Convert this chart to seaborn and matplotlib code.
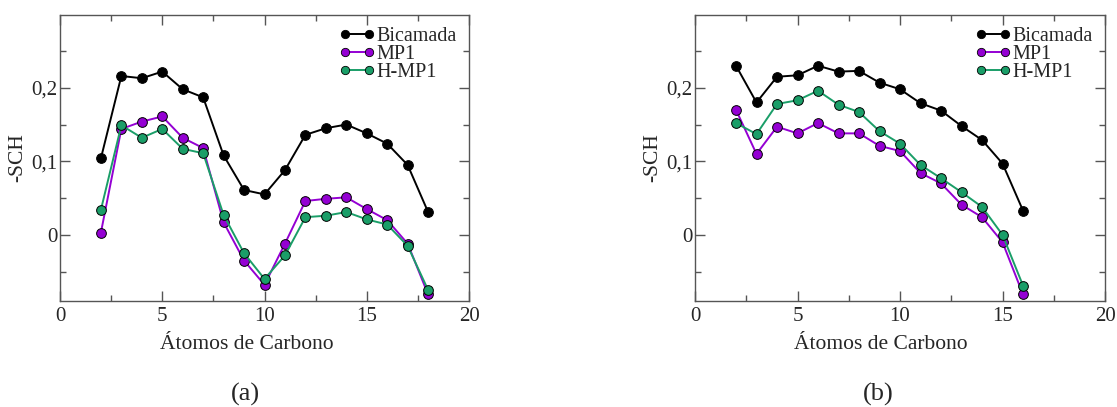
import matplotlib
matplotlib.use("Agg")
import matplotlib.pyplot as plt
import seaborn as sns
import pandas as pd
from matplotlib.ticker import MultipleLocator, FuncFormatter

# ---- data ----
carbons_a = list(range(2, 19))
bicamada_a = [0.104, 0.216, 0.213, 0.222, 0.198, 0.187, 0.108, 0.061, 0.055,
              0.088, 0.136, 0.145, 0.150, 0.138, 0.124, 0.095, 0.031]
mp1_a = [0.003, 0.144, 0.154, 0.161, 0.132, 0.118, 0.017, -0.035, -0.068,
         -0.012, 0.046, 0.049, 0.051, 0.035, 0.020, -0.012, -0.081]
hmp1_a = [0.034, 0.149, 0.132, 0.144, 0.117, 0.111, 0.027, -0.025, -0.060,
          -0.028, 0.024, 0.026, 0.031, 0.021, 0.014, -0.015, -0.075]

carbons_b = list(range(2, 17))
bicamada_b = [0.230, 0.180, 0.215, 0.217, 0.230, 0.222, 0.223, 0.207, 0.198,
              0.179, 0.169, 0.148, 0.129, 0.097, 0.033]
mp1_b = [0.170, 0.110, 0.147, 0.138, 0.152, 0.138, 0.138, 0.121, 0.114,
         0.084, 0.070, 0.041, 0.024, -0.010, -0.081]
hmp1_b = [0.152, 0.137, 0.178, 0.183, 0.196, 0.177, 0.167, 0.141, 0.124,
          0.095, 0.077, 0.058, 0.038, 0.000, -0.069]

series_names = ["Bicamada", "MP1", "H-MP1"]
colors = ["#000000", "#9400D3", "#1A9E68"]
xlabel = "Átomos de Carbono"
ylabel = "-SCH"
panel_labels = ["(a)", "(b)"]

sns.set_style("ticks")
plt.rcParams["font.family"] = ["Liberation Serif", "DejaVu Serif"]

fig = plt.figure(figsize=(11.17, 4.07), dpi=100)
W, H = 1117, 407
ax_a = fig.add_axes([60 / W, 1 - 301 / H, 409 / W, 286 / H])
ax_b = fig.add_axes([695 / W, 1 - 301 / H, 410 / W, 286 / H])


def comma_fmt(v, pos):
    if abs(v) < 1e-9:
        return "0"
    return ("%g" % v).replace(".", ",")


def draw(ax, xs, ys_list, label_pos_x):
    frames = []
    for name, ys in zip(series_names, ys_list):
        frames.append(pd.DataFrame({"x": xs, "y": ys, "s": name}))
    df = pd.concat(frames, ignore_index=True)
    sns.lineplot(data=df, x="x", y="y", hue="s", palette=colors,
                 hue_order=series_names, marker="o", markersize=7,
                 markeredgecolor="black", markeredgewidth=0.7,
                 linewidth=1.4, ax=ax, legend=True, sort=False)
    handles, labels = ax.get_legend_handles_labels()
    for h in handles:
        h.set_markeredgecolor("black")
        h.set_markeredgewidth(0.6)
        h.set_markersize(6)
    ax.legend(handles, labels, loc="upper right", frameon=False,
              numpoints=2, handlelength=1.75, handletextpad=0.1,
              labelspacing=-0.05, fontsize=14.5, borderaxespad=0.2,
              bbox_to_anchor=(1.0, 1.0))
    ax.set_xlim(0, 20)
    ax.set_ylim(-0.09, 0.299)
    ax.xaxis.set_major_locator(MultipleLocator(5))
    ax.xaxis.set_minor_locator(MultipleLocator(2.5))
    ax.yaxis.set_major_locator(MultipleLocator(0.1))
    ax.yaxis.set_minor_locator(MultipleLocator(0.05))
    ax.yaxis.set_major_formatter(FuncFormatter(comma_fmt))
    ax.tick_params(which="both", direction="in", top=True, right=True,
                   color="#555555", labelsize=15, width=1.0)
    ax.tick_params(which="major", length=7, pad=4)
    ax.tick_params(which="minor", length=4)
    ax.tick_params(axis="y", which="major", pad=2)
    for sp in ax.spines.values():
        sp.set_visible(True)
        sp.set_color("#555555")
        sp.set_linewidth(1.0)
    ax.set_xlabel(xlabel, fontsize=15.5)
    ax.set_ylabel(ylabel, fontsize=15.5)
    ax.xaxis.set_label_coords(label_pos_x, -0.12)
    ax.yaxis.set_label_coords(-0.08, 0.5)


draw(ax_a, carbons_a, [bicamada_a, mp1_a, hmp1_a], 0.457)
draw(ax_b, carbons_b, [bicamada_b, mp1_b, hmp1_b], 0.454)

fig.text(245 / W, 1 - 401 / H, panel_labels[0], ha="center", va="baseline", fontsize=19)
fig.text(878 / W, 1 - 401 / H, panel_labels[1], ha="center", va="baseline", fontsize=19)

fig.savefig("out.png", dpi=100)
